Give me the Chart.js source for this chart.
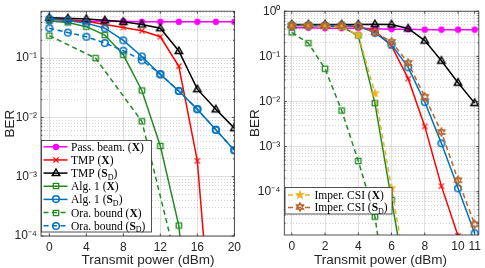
<!DOCTYPE html>
<html><head><meta charset="utf-8">
<script src="https://cdn.jsdelivr.net/npm/chart.js@4/dist/chart.umd.min.js"></script>
<style>
html,body{margin:0;padding:0;background:#fff;}
#wrap{position:relative;width:485px;height:268px;overflow:hidden;background:#fff;}
canvas{position:absolute;top:0;}
</style></head><body>
<div id="wrap">
<canvas id="cL" width="245" height="268" style="left:0px"></canvas>
<canvas id="cR" width="240" height="268" style="left:245px"></canvas>
</div>
<script>
// ---------- DATA ----------
// Left panel
const xLeft = [0,2,4,6,8,10,12,14,16,18,20];
const xLeftOra = [0,5,10,15];
const passBeamLeft = [0.42,0.42,0.42,0.42,0.42,0.41,0.41,0.41,0.41,0.41,0.41];
const tmpXLeft = [0.46,0.45,0.42,0.37,0.33,0.29,0.23,0.073,1.85e-3,3e-7];
const tmpSLeft = [0.48,0.47,0.46,0.435,0.41,0.37,0.32,0.132,0.030,0.0137,0.0066];
const alg1XLeft = [0.425,0.40,0.34,0.245,0.114,0.0285,3.3e-3,1.5e-4,1e-7];
const alg1SLeft = [0.46,0.43,0.39,0.32,0.20,0.107,0.053,0.028,0.0138,0.0062,0.0028];
const oraXLeft = [0.24,0.10,8.6e-3,5.9e-6];
const oraSLeft = [0.32,0.27,0.23,0.18,0.134,0.092,0.054,0.028,0.0138,0.0062,0.0028];
const xTicksLeft = [0,4,8,12,16,20];
// Right panel
const xRight = [0,1,2,3,4,5,6,7,8,9,10,11];
const passBeamRight = [0.43,0.43,0.42,0.42,0.42,0.41,0.40,0.40,0.39,0.39,0.39,0.39];
const tmpXRight = [0.49,0.49,0.48,0.48,0.45,0.37,0.17,0.032,2.8e-3,1.33e-4,1.05e-5];
const tmpSRight = [0.51,0.51,0.51,0.51,0.51,0.515,0.51,0.415,0.223,0.080,0.026,0.0092];
const alg1XRight = [0.48,0.48,0.47,0.45,0.29,9.2e-3,6.6e-5,5e-7];
const alg1SRight = [0.48,0.48,0.48,0.48,0.47,0.33,0.18,0.057,9.7e-3,1.18e-3,1.19e-4,1.2e-5];
const oraXRight = [0.34,0.195,0.053,6.3e-3,4.8e-4,2.8e-5,1e-7];
const imperXRight = [0.48,0.48,0.47,0.45,0.30,0.0152,1.19e-4,9e-7];
const imperSRight = [0.48,0.48,0.48,0.48,0.47,0.34,0.21,0.071,0.0127,2.1e-3,1.8e-4,1.9e-5];
const xTicksRight = [0,2,4,6,8,10,11];
// Labels
const xTitle = 'Transmit power (dBm)';
const yTitle = 'BER';
const legendLeftText = [
  [['Pass. beam. (','r'],['X','b'],[')','r']],
  [['TMP (','r'],['X','b'],[')','r']],
  [['TMP (','r'],['S','b'],['D','sub'],[')','r']],
  [['Alg. 1 (','r'],['X','b'],[')','r']],
  [['Alg. 1 (','r'],['S','b'],['D','sub'],[')','r']],
  [['Ora. bound (','r'],['X','b'],[')','r']],
  [['Ora. bound (','r'],['S','b'],['D','sub'],[')','r']]
];
const legendRightText = [
  [['Imper. CSI (','r'],['X','b'],[')','r']],
  [['Imper. CSI (','r'],['S','b'],['D','sub'],[')','r']]
];

// ---------- STYLE ----------
const C = {mag:'#FF00FF', red:'#FF0000', blk:'#000000', grn:'#228B22', blu:'#0072BD', yel:'#EDB120', brn:'#B5652F'};
const AX = '#262626';
const DASH = [5,3.5];
const SANS = '"Liberation Sans", Arial, sans-serif';

function marker(kind, color){
  const c = document.createElement('canvas'); c.width = 14; c.height = 14;
  const g = c.getContext('2d'); g.translate(7,7);
  g.strokeStyle = color; g.fillStyle = color; g.lineWidth = 1.3;
  g.beginPath();
  if (kind==='dot'){ g.arc(0,0,2.5,0,Math.PI*2); g.fill(); g.stroke(); }
  else if (kind==='x'){ g.moveTo(-2.6,-2.6); g.lineTo(2.6,2.6); g.moveTo(2.6,-2.6); g.lineTo(-2.6,2.6); g.stroke(); }
  else if (kind==='tri'){ g.lineWidth=1.5; g.moveTo(0,-4); g.lineTo(3.7,2.6); g.lineTo(-3.7,2.6); g.closePath(); g.stroke(); }
  else if (kind==='sq'){ g.rect(-2.7,-2.7,5.4,5.4); g.stroke(); }
  else if (kind==='circ'){ g.lineWidth=1.5; g.arc(0,0,3.3,0,Math.PI*2); g.stroke(); }
  else if (kind==='star'){
    for (let i=0;i<10;i++){ const r = i%2? 1.9:4.6; const a = -Math.PI/2 + i*Math.PI/5;
      const px = r*Math.cos(a), py = r*Math.sin(a); if(i===0) g.moveTo(px,py); else g.lineTo(px,py); }
    g.closePath(); g.fill(); g.lineWidth=0.6; g.stroke();
  }
  else if (kind==='hex'){
    g.lineWidth=1.2;
    for (let t=0;t<2;t++){ const off = t? Math.PI/2 : -Math.PI/2;
      for (let i=0;i<3;i++){ const a = off + i*2*Math.PI/3; const px=4.3*Math.cos(a), py=4.3*Math.sin(a);
        if(i===0) g.moveTo(px,py); else g.lineTo(px,py);} g.closePath(); }
    g.stroke();
  }
  return c;
}
const M = {
  mag: marker('dot', C.mag), red: marker('x', C.red), blk: marker('tri', C.blk),
  grn: marker('sq', C.grn), blu: marker('circ', C.blu), yel: marker('star', C.yel), brn: marker('hex', C.brn)
};

function ds(label, xs, ys, color, mk, dash){
  return {label, data: ys.map((y,i)=>({x:xs[i], y})), borderColor: color, backgroundColor: color,
    borderWidth: 1.5, borderDash: dash||[], pointStyle: mk, pointRadius: 3, pointHoverRadius: 3,
    tension: 0, fill: false};
}
function withOrder(list){ list.forEach((d,i)=>{ d.order = list.length - i; }); return list; }

const isMajor = v => { const e = Math.log10(v); return Math.abs(e - Math.round(e)) < 1e-6; };
const supMap = {'-':'\u207B','0':'\u2070','1':'\u00B9','2':'\u00B2','3':'\u00B3','4':'\u2074','5':'\u2075','6':'\u2076','7':'\u2077','8':'\u2078','9':'\u2079'};
const logLabel = v => isMajor(v) ? '10' + String(Math.round(Math.log10(v))).split('').map(c=>supMap[c]).join('') : '';
function logTicks(min, max){
  const out = [];
  for (let e = Math.floor(Math.log10(min)); e <= Math.ceil(Math.log10(max)); e++)
    for (let k=1;k<=9;k++){ const v = k*Math.pow(10,e); if (v >= min*0.9999 && v <= max*1.0001) out.push({value:v}); }
  return out;
}

function framePlugin(legend, xTitleX){
  return {
    id: 'frame',
    afterDatasetsDraw(chart){
      const {ctx, chartArea: a} = chart;
      const xs = chart.scales.x, ys = chart.scales.y;
      ctx.save();
      ctx.strokeStyle = AX; ctx.lineWidth = 0.8; ctx.setLineDash([]);
      ctx.beginPath();
      xs.ticks.forEach(t=>{ const p = xs.getPixelForValue(t.value);
        ctx.moveTo(p,a.bottom); ctx.lineTo(p,a.bottom-2.5); ctx.moveTo(p,a.top); ctx.lineTo(p,a.top+2.5); });
      ys.ticks.forEach(t=>{ const p = ys.getPixelForValue(t.value); const L = isMajor(t.value)?2.5:1.3;
        ctx.moveTo(a.left,p); ctx.lineTo(a.left+L,p); ctx.moveTo(a.right,p); ctx.lineTo(a.right-L,p); });
      ctx.stroke();
      ctx.strokeRect(a.left, a.top, a.right-a.left, a.bottom-a.top);
      // x axis title
      ctx.fillStyle = AX; ctx.font = '13.5px ' + SANS; ctx.textAlign = 'center'; ctx.textBaseline = 'middle';
      ctx.fillText(xTitle, xTitleX, 260.3);
      // legend
      const b = legend.box;
      ctx.fillStyle = '#fff'; ctx.fillRect(b.x, b.y, b.w, b.h);
      ctx.strokeStyle = AX; ctx.lineWidth = 0.8; ctx.strokeRect(b.x, b.y, b.w, b.h);
      legend.items.forEach((it, i)=>{
        const y = b.y + legend.first + i*legend.step;
        ctx.strokeStyle = it.color; ctx.lineWidth = 1.5; ctx.setLineDash(it.dash||[]);
        ctx.beginPath(); ctx.moveTo(legend.lx0, y); ctx.lineTo(legend.lx1, y); ctx.stroke();
        ctx.setLineDash([]);
        const mx = (legend.lx0 + legend.lx1)/2;
        ctx.drawImage(it.marker, Math.round(mx - 7), Math.round(y - 7));
        let x = legend.tx;
        ctx.fillStyle = '#000'; ctx.textBaseline = 'alphabetic'; ctx.textAlign = 'left';
        it.text.forEach(([t, st])=>{
          let dy = 0;
          if (st==='b') ctx.font = 'bold 11.5px "Liberation Serif"';
          else if (st==='sub') { ctx.font = '8px "Liberation Serif"'; dy = 2.5; }
          else ctx.font = '11.5px "Liberation Serif"';
          ctx.fillText(t, x, y + 4 + dy);
          x += ctx.measureText(t).width;
        });
      });
      ctx.restore();
    }
  };
}

function makeChart(id, datasets, o){
  return new Chart(document.getElementById(id), {
    type: 'line',
    data: { datasets },
    plugins: [framePlugin(o.legend, o.xTitleX)],
    options: {
      responsive: false, animation: false, devicePixelRatio: 1, events: [],
      layout: { padding: { top: o.top, right: o.right, left: 0, bottom: 0 } },
      plugins: { legend: { display: false }, tooltip: { enabled: false } },
      scales: {
        x: {
          type: 'linear', min: o.xmin, max: o.xmax,
          afterBuildTicks: s => { s.ticks = o.xticks.map(v=>({value:v})); },
          afterFit: s => { s.height = o.xh; },
          ticks: { autoSkip: false, maxRotation: 0, padding: 4, color: AX,
            font: { family: SANS, size: 12 }, callback: v => String(v) },
          grid: { drawTicks: false, color: 'rgba(38,38,38,0.15)', lineWidth: 1 },
          border: { display: false },
          title: { display: false }
        },
        y: {
          type: 'logarithmic', min: o.ymin, max: o.ymax,
          afterBuildTicks: s => { s.ticks = logTicks(o.ymin, o.ymax); },
          afterFit: s => { s.width = o.yw; },
          ticks: { autoSkip: false, padding: 4, color: AX,
            font: { family: SANS, size: 12 }, callback: v => logLabel(v) },
          grid: { drawTicks: false, lineWidth: 1,
            color: ctx => (ctx.tick && isMajor(ctx.tick.value)) ? 'rgba(38,38,38,0.15)' : 'rgba(38,38,38,0.2)' },
          border: { display: false, dash: ctx => (ctx.tick && !isMajor(ctx.tick.value)) ? [1,2] : [] },
          title: { display: true, text: yTitle, color: AX,
            font: { family: SANS, size: 13.5 }, padding: { top: 2.5, bottom: 0 } }
        }
      }
    }
  });
}

// Left chart
makeChart('cL', withOrder([
  ds('Pass. beam. (X)', xLeft, passBeamLeft, C.mag, M.mag),
  ds('TMP (X)', xLeft, tmpXLeft, C.red, M.red),
  ds('TMP (S_D)', xLeft, tmpSLeft, C.blk, M.blk),
  ds('Alg. 1 (X)', xLeft, alg1XLeft, C.grn, M.grn),
  ds('Alg. 1 (S_D)', xLeft, alg1SLeft, C.blu, M.blu),
  ds('Ora. bound (X)', xLeftOra, oraXLeft, C.grn, M.grn, DASH),
  ds('Ora. bound (S_D)', xLeft, oraSLeft, C.blu, M.blu, DASH)
]), {
  top: 7, right: 5, xh: 32, yw: 41, xmin: -0.9, xmax: 20, ymin: 1e-4, ymax: 0.62, xticks: xTicksLeft, xTitleX: 148,
  legend: {
    box: {x: 41.5, y: 140.5, w: 110, h: 91.5}, first: 6.3, step: 13.15, lx0: 43.5, lx1: 67.5, tx: 71,
    items: [
      {color: C.mag, marker: M.mag, text: legendLeftText[0]},
      {color: C.red, marker: M.red, text: legendLeftText[1]},
      {color: C.blk, marker: M.blk, text: legendLeftText[2]},
      {color: C.grn, marker: M.grn, text: legendLeftText[3]},
      {color: C.blu, marker: M.blu, text: legendLeftText[4]},
      {color: C.grn, marker: M.grn, dash: DASH, text: legendLeftText[5]},
      {color: C.blu, marker: M.blu, dash: DASH, text: legendLeftText[6]}
    ]
  }
});

// Right chart
makeChart('cR', withOrder([
  ds('Pass. beam. (X)', xRight, passBeamRight, C.mag, M.mag),
  ds('TMP (X)', xRight, tmpXRight, C.red, M.red),
  ds('TMP (S_D)', xRight, tmpSRight, C.blk, M.blk),
  ds('Alg. 1 (X)', xRight, alg1XRight, C.grn, M.grn),
  ds('Alg. 1 (S_D)', xRight, alg1SRight, C.blu, M.blu),
  ds('Ora. bound (X)', xRight, oraXRight, C.grn, M.grn, DASH),
  ds('Imper. CSI (X)', xRight, imperXRight, C.yel, M.yel, DASH),
  ds('Imper. CSI (S_D)', xRight, imperSRight, C.brn, M.brn, DASH)
]), {
  top: 7.5, right: 2.7, xh: 33, yw: 39.3, xmin: -0.45, xmax: 11.25, ymin: 1.1e-5, ymax: 1, xticks: xTicksRight, xTitleX: 135.5,
  legend: {
    box: {x: 40, y: 187.5, w: 107, h: 26.5}, first: 7.6, step: 12.3, lx0: 43, lx1: 67, tx: 69.5,
    items: [
      {color: C.yel, marker: M.yel, dash: DASH, text: legendRightText[0]},
      {color: C.brn, marker: M.brn, dash: DASH, text: legendRightText[1]}
    ]
  }
});
</script>
</body></html>
